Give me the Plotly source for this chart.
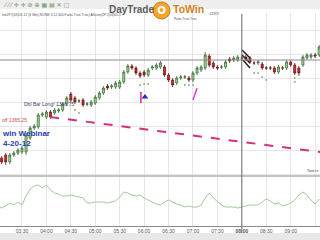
import plotly.graph_objects as go

# ---------------- data ----------------
bar_index = list(range(80))
opens = [1359.875,1360.125,1360.5,1359.625,1360.5,1360.75,1360.875,1360.875,1362.625,1363.875,
         1364.0,1365.5,1365.25,1365.875,1365.75,1366.0,1366.125,1366.875,1368.125,1367.625,
         1367.25,1367.375,1366.875,1366.75,1367.0,1367.625,1368.25,1369.125,1369.0,1369.0,
         1369.0,1369.625,1370.875,1371.625,1371.375,1370.75,1370.875,1370.5,1371.375,1371.375,
         1371.5,1371.5,1370.5,1369.875,1369.5,1370.125,1370.25,1370.125,1369.875,1370.75,
         1371.125,1371.375,1372.875,1372.0,1371.5,1371.5,1371.5,1372.5,1372.375,1372.375,
         1372.625,1372.75,1372.625,1372.0,1372.0,1371.875,1371.375,1371.375,1371.375,1370.875,
         1371.375,1371.375,1372.125,1371.75,1371.375,1371.75,1372.625,1372.75,1373.0,1373.0]
highs = [1360.5,1360.375,1360.75,1360.75,1361.0,1361.375,1361.625,1363.25,1364.125,1364.375,
         1365.75,1365.875,1366.125,1366.125,1366.375,1366.375,1367.125,1367.875,1368.375,1367.875,
         1367.5,1367.625,1367.125,1367.375,1368.0,1368.5,1369.125,1369.375,1369.375,1369.75,
         1369.875,1371.125,1371.875,1371.875,1371.625,1371.0,1371.125,1371.375,1371.75,1372.0,
         1372.25,1371.75,1370.75,1370.125,1370.375,1370.5,1370.5,1370.375,1371.0,1371.625,
         1371.75,1373.375,1373.125,1372.25,1371.75,1371.75,1372.375,1372.75,1372.875,1373.0,
         1372.875,1373.0,1372.875,1372.25,1372.375,1372.125,1371.625,1371.625,1371.625,1371.75,
         1371.625,1372.375,1372.375,1372.0,1371.625,1373.0,1373.25,1373.25,1373.25,1374.25]
lows = [1359.5,1359.375,1359.25,1359.375,1360.25,1360.5,1360.625,1360.5,1362.375,1363.625,
        1363.75,1365.25,1365.0,1365.0,1365.5,1365.75,1365.875,1366.625,1367.125,1366.875,
        1367.0,1366.5,1366.625,1366.5,1366.75,1367.375,1368.0,1368.625,1368.75,1368.75,
        1368.75,1369.375,1370.625,1371.125,1370.5,1370.125,1370.25,1370.25,1371.125,1371.125,
        1371.25,1370.25,1369.625,1369.0,1369.25,1369.875,1370.0,1369.625,1369.625,1370.5,
        1370.875,1371.125,1371.5,1371.25,1371.125,1371.25,1371.25,1372.0,1372.125,1372.125,
        1372.375,1372.25,1371.875,1371.75,1371.75,1371.125,1371.125,1371.125,1370.625,1370.625,
        1371.125,1371.125,1371.5,1370.5,1370.5,1371.5,1372.375,1372.5,1372.625,1372.75]
closes = [1360.25,1359.625,1359.625,1360.5,1360.75,1361.125,1361.375,1363.0,1363.875,1364.125,
          1365.5,1365.625,1365.875,1365.25,1366.125,1366.125,1366.875,1367.625,1367.375,1367.125,
          1367.25,1366.75,1366.875,1367.125,1367.75,1368.25,1368.875,1368.875,1369.125,1369.5,
          1369.625,1370.875,1371.625,1371.375,1370.75,1370.375,1370.5,1371.125,1371.5,1371.75,
          1372.0,1370.5,1369.875,1369.25,1370.125,1370.25,1370.25,1369.875,1370.75,1371.375,
          1371.5,1373.0,1371.75,1371.5,1371.375,1371.5,1372.125,1372.25,1372.625,1372.75,
          1372.625,1372.5,1372.125,1372.0,1372.125,1371.375,1371.375,1371.375,1370.875,1371.5,
          1371.375,1372.125,1371.75,1370.75,1370.75,1372.75,1373.0,1373.0,1372.875,1374.0]

dot_index = [19, 20, 35, 36, 37, 46, 47, 48, 63, 64, 65, 66, 73, 73, 74]
dot_price = [1366.125, 1365.75, 1369.25, 1369.375, 1369.375, 1369.25, 1369.25, 1369.25,
             1370.75, 1370.75, 1370.25, 1369.875, 1370.125, 1369.625, 1370.5]

osc_values = [20,18,20,23,21,24,21,30,37,40,41,38,41,36,33,32,30,30,31,30,
              29,28,23,23,24,24,24,23,24,25,29,34,33,31,30,31,28,26,24,22,
              21,24,26,24,22,21,19,20,19,19,21,28,33,28,24,21,19,19,19,18,
              19,20,21,21,21,24,27,25,22,23,20,21,23,26,31,34,31,26,22,27]

tick_index = [0, 6, 12, 18, 24, 30, 36, 42, 48, 54, 60, 66, 72, 78]
tick_labels = ["03:00","03:30","04:00","04:30","05:00","05:30","06:00","06:30",
               "07:00","07:30","<b>08:00</b>","08:30","09:00","09:30"]

stop_line_x = [12.9, 79.2]
stop_line_y = [1365.25, 1360.875]
entry_price = 1366.75
stop_price = 1365.25
crosshair_index = 60
crosshair_price = 1372.375
magenta_v_x = [35.2, 35.2]
magenta_v_y = [1368.375, 1367.0]
magenta_d_x = [48.0, 49.0]
magenta_d_y = [1367.375, 1368.875]
arrow_x = [36.2]
arrow_y = [1367.75]
scribble_x = [[60.05, 62.0], [60.05, 62.0], [60.3, 62.0]]
scribble_y = [[1373.625, 1372.625], [1373.0, 1372.0], [1372.375, 1371.375]]

# ---------------- figure ----------------
W, H = 320, 240
def px(x): return x / W
def py(y): return 1 - y / H

fig = go.Figure()

fig.add_trace(go.Scatter(x=stop_line_x, y=stop_line_y, mode="lines",
                         line=dict(color="#d4307e", width=2, dash="dash"),
                         xaxis="x", yaxis="y", hoverinfo="skip"))

fig.add_trace(go.Candlestick(
    x=bar_index, open=opens, high=highs, low=lows, close=closes,
    increasing=dict(fillcolor="#a9dd9c", line=dict(color="#3a6a3a", width=0.8)),
    decreasing=dict(fillcolor="#d42c2c", line=dict(color="#6e1a1a", width=0.8)),
    whiskerwidth=0, xaxis="x", yaxis="y"))

fig.add_trace(go.Scatter(x=dot_index, y=dot_price, mode="markers",
                         marker=dict(size=2, color="#8fae8f"), xaxis="x", yaxis="y"))

fig.add_trace(go.Scatter(x=magenta_v_x, y=magenta_v_y, mode="lines",
                         line=dict(color="#cc2a9a", width=1.5), xaxis="x", yaxis="y"))
fig.add_trace(go.Scatter(x=magenta_d_x, y=magenta_d_y, mode="lines",
                         line=dict(color="#cc44cc", width=1.5), xaxis="x", yaxis="y"))
fig.add_trace(go.Scatter(x=arrow_x, y=arrow_y, mode="markers",
                         marker=dict(symbol="triangle-up", size=6, color="#2233bb"),
                         xaxis="x", yaxis="y"))
for sx, sy in zip(scribble_x, scribble_y):
    fig.add_trace(go.Scatter(x=sx, y=sy, mode="lines",
                             line=dict(color="#222222", width=1.5), xaxis="x", yaxis="y"))

fig.add_trace(go.Scatter(x=bar_index, y=osc_values, mode="lines",
                         line=dict(color="#a4c89c", width=1), xaxis="x2", yaxis="y2"))

xr = [0.6, 79.2]
grid = "#e6e6e6"
fig.update_layout(
    width=W, height=H, margin=dict(l=0, r=0, t=0, b=0),
    paper_bgcolor="white", plot_bgcolor="white", showlegend=False,
    xaxis=dict(domain=[0, 1], range=xr, anchor="y", tickvals=tick_index,
               showticklabels=False, showgrid=True, gridcolor=grid, gridwidth=1,
               zeroline=False, rangeslider=dict(visible=False), fixedrange=True),
    yaxis=dict(domain=[py(176), py(13)], range=[1357.875, 1378.25],
               showticklabels=False, showgrid=True, gridcolor=grid,
               tick0=1376.125, dtick=3, zeroline=False),
    xaxis2=dict(domain=[0, 1], range=xr, anchor="y2", tickvals=tick_index,
                ticktext=tick_labels, showgrid=True, gridcolor=grid,
                showline=True, linecolor="#8a8a8a", linewidth=1, ticks="",
                tickfont=dict(size=5, color="#555555", family="Liberation Sans"),
                zeroline=False),
    yaxis2=dict(domain=[py(226), py(177)], range=[0, 49], showgrid=False,
                showticklabels=False, zeroline=False),
)

shapes = []
shapes.append(dict(type="rect", xref="paper", yref="paper", x0=0, x1=1, y0=py(9), y1=1,
                   fillcolor="#eeeeee", line=dict(width=0), layer="below"))
shapes.append(dict(type="rect", xref="paper", yref="paper", x0=0, x1=1, y0=0, y1=py(233),
                   fillcolor="#e8e8e8", line=dict(width=0)))
shapes.append(dict(type="line", xref="paper", yref="paper", x0=0, x1=1, y0=py(176), y1=py(176),
                   line=dict(color="#8a8a8a", width=1)))
shapes.append(dict(type="line", xref="paper", yref="y", x0=0, x1=1,
                   y0=crosshair_price, y1=crosshair_price, line=dict(color="#8a8a8a", width=1)))
shapes.append(dict(type="line", xref="x", yref="paper", x0=crosshair_index, x1=crosshair_index,
                   y0=py(233), y1=py(14), line=dict(color="#6a6a6a", width=1)))
shapes.append(dict(type="circle", xref="paper", yref="paper", x0=px(153), x1=px(170),
                   y0=py(19), y1=py(2), fillcolor="#f4a52a", line=dict(color="#c47a14", width=1)))
shapes.append(dict(type="circle", xref="paper", yref="paper", x0=px(157.5), x1=px(165.5),
                   y0=py(14), y1=py(6), fillcolor="white", line=dict(width=0)))
shapes.append(dict(type="circle", xref="paper", yref="paper", x0=px(159.5), x1=px(163.5),
                   y0=py(12), y1=py(8), fillcolor="#f4a52a", line=dict(width=0)))
fig.update_layout(shapes=shapes)

F = "Liberation Sans"
ann = []
def txt(x, y, s, size, color, anchor="left", bold=False, family=F):
    ann.append(dict(xref="paper", yref="paper", x=px(x), y=py(y), text=(f"<b>{s}</b>" if bold else s),
                    showarrow=False, xanchor=anchor, yanchor="middle",
                    font=dict(size=size, color=color, family=family)))

txt(1, 4.5, "⁄ ⁄ ⁄ ✛ ✛ ⊘ ⊕ ▦ ▤ ✕ ▢", 6, "#6f8f5f", family="DejaVu Sans")
txt(0, 15.5, "ineZF#(03)05-12 (6 Min),NONE,3,12,300,False,True,True),AltLine(ZF#(03)05-1", 3.4, "#555555")
txt(107, 9.5, "DayTrade", 10, "#5b5b5b", bold=True)
txt(171, 9.5, "ToWin", 10.5, "#d0831c", bold=True)
txt(206, 12.5, ".com", 5, "#777777")
txt(172, 19, "Pattie Trust Trust", 3, "#555555")
txt(22, 104, "Dbl Bar Long! " + f"{entry_price:.2f}", 5, "#3d3d66")
txt(0, 120, "off " + f"{stop_price:.2f}", 5, "#d04848")
txt(0, 133, "win Webinar", 8, "#2a3ab5", bold=True)
txt(1, 143.5, "4-20-12", 8, "#2a3ab5", bold=True)
txt(305, 170.5, "Total re", 3.5, "#444444")
fig.update_layout(annotations=ann)

fig.write_html("out.html")
